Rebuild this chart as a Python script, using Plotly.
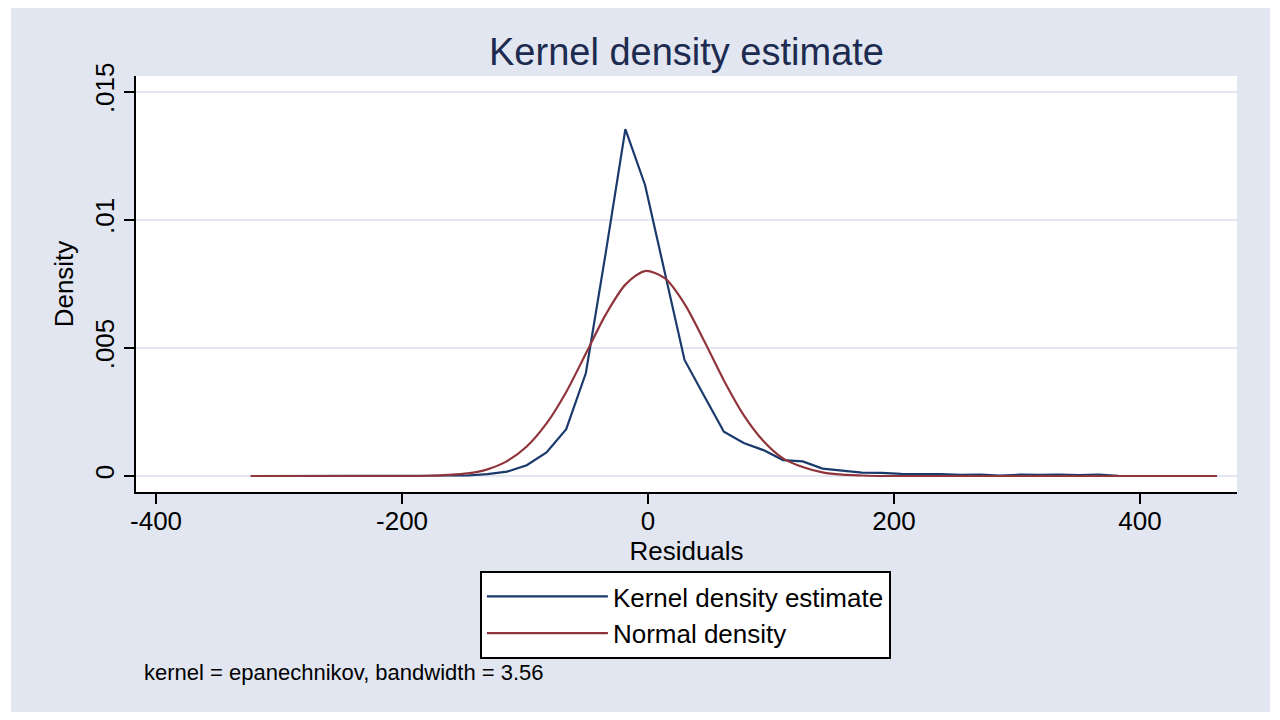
import plotly.graph_objects as go

# Evaluation grid (residuals)
residuals = [-323.0, -307.0, -290.9, -274.9, -258.9, -242.9, -226.8, -210.8, -194.8, -178.7,
             -162.7, -146.7, -130.6, -114.6, -98.6, -82.5, -66.5, -50.5, -34.5, -18.4,
             -2.4, 13.6, 29.7, 45.7, 61.7, 77.8, 93.8, 109.8, 125.8, 141.9,
             157.9, 173.9, 190.0, 206.0, 222.0, 238.1, 254.1, 270.1, 286.1, 302.2,
             318.2, 334.2, 350.3, 366.3, 382.3, 398.4, 414.4, 430.4, 446.4, 462.5]

kernel_density = [0, 0, 0, 0, 0, 0, 0, 0, 0, 0,
                  0.000005, 0.00002, 0.00007, 0.00017, 0.00042, 0.00092, 0.00183, 0.00402, 0.00867, 0.01354,
                  0.01136, 0.00800, 0.00453, 0.00312, 0.00173, 0.00129, 0.00101, 0.00062, 0.00057, 0.00029,
                  0.00020, 0.00013, 0.00012, 0.00008, 0.00007, 0.00007, 0.00004, 0.00005, 0.00002, 0.00005,
                  0.00004, 0.00005, 0.00003, 0.00005, 0.00001, 0, 0, 0, 0, 0]

normal_density = [0, 0, 0, 0, 0, 0, 0, 0, 0, 0.00001,
                  0.00004, 0.00010, 0.00026, 0.00058, 0.00115, 0.00205, 0.00328, 0.00478, 0.00629, 0.00747,
                  0.00800, 0.00772, 0.00672, 0.00527, 0.00373, 0.00238, 0.00137, 0.00069, 0.00035, 0.00014,
                  0.00005, 0.00002, 0, 0, 0, 0, 0, 0, 0, 0,
                  0, 0, 0, 0, 0, 0, 0, 0, 0, 0]

x_ticks = [-400, -200, 0, 200, 400]
x_ticktext = ["-400", "-200", "0", "200", "400"]
y_ticks = [0, 0.005, 0.01, 0.015]
y_ticktext = ["0", ".005", ".01", ".015"]

BG = "#e1e6f0"
FONT = "Liberation Sans, Arial, sans-serif"

fig = go.Figure()
fig.add_trace(go.Scatter(x=residuals, y=kernel_density, mode="lines",
                         name="Kernel density estimate",
                         line=dict(color="#1a3a6c", width=2.2)))
fig.add_trace(go.Scatter(x=residuals, y=normal_density, mode="lines",
                         name="Normal density",
                         line=dict(color="#90353b", width=2.2, shape="spline", smoothing=0.8)))

fig.update_layout(
    width=1280, height=720,
    margin=dict(l=136, r=43, t=76, b=228),
    paper_bgcolor=BG, plot_bgcolor="white",
    font=dict(family=FONT, color="black", size=26),
    title=dict(text="Kernel density estimate", x=0.5, xref="paper",
               y=1 - 52 / 720, yref="container", yanchor="middle", xanchor="center",
               font=dict(size=38, color="#1c2b4f", family=FONT)),
    xaxis=dict(range=[-416.3, 478.9], tickvals=x_ticks, ticktext=x_ticktext,
               showgrid=False, zeroline=False, showline=True, linecolor="black", linewidth=2,
               ticks="outside", ticklen=10, tickwidth=2, tickcolor="black",
               tickfont=dict(size=26), ticklabelstandoff=-5,
               title=dict(text="Residuals", font=dict(size=26), standoff=0)),
    yaxis=dict(range=[-0.000625, 0.015613], tickvals=y_ticks, ticktext=y_ticktext,
               showgrid=True, gridcolor=BG, gridwidth=2, zeroline=False,
               showline=True, linecolor="black", linewidth=2,
               ticks="outside", ticklen=10, tickwidth=1.5, tickcolor="black",
               tickangle=-90, tickfont=dict(size=26),
               title=dict(text="Density", font=dict(size=26), standoff=8)),
    legend=dict(x=0.499, y=(492 - 571) / 416, xanchor="center", yanchor="top",
                bgcolor="white", bordercolor="black", borderwidth=2,
                font=dict(size=26), itemwidth=121, tracegroupgap=0),
    showlegend=True,
)

# note
fig.add_annotation(text="kernel = epanechnikov, bandwidth = 3.56",
                   xref="paper", yref="paper", x=(142 - 136) / 1101, y=(492 - 672) / 416,
                   xanchor="left", yanchor="middle", showarrow=False,
                   font=dict(size=22, color="black", family=FONT))

# white outer frame
W = 1101.0
H = 416.0
def px_x(p):
    return (p - 136) / W
def px_y(p):
    return (492 - p) / H
for (x0, y0, x1, y1) in [(0, 0, 11, 720), (1270, 0, 1280, 720), (0, 0, 1280, 8), (0, 712, 1280, 720)]:
    fig.add_shape(type="rect", xref="paper", yref="paper",
                  x0=px_x(x0), x1=px_x(x1), y0=px_y(y1), y1=px_y(y0),
                  fillcolor="white", line=dict(width=0), layer="above")

fig.write_html("out.html", config={"displayModeBar": False},
               post_script="document.body.style.margin='0';document.body.style.overflow='hidden';")
